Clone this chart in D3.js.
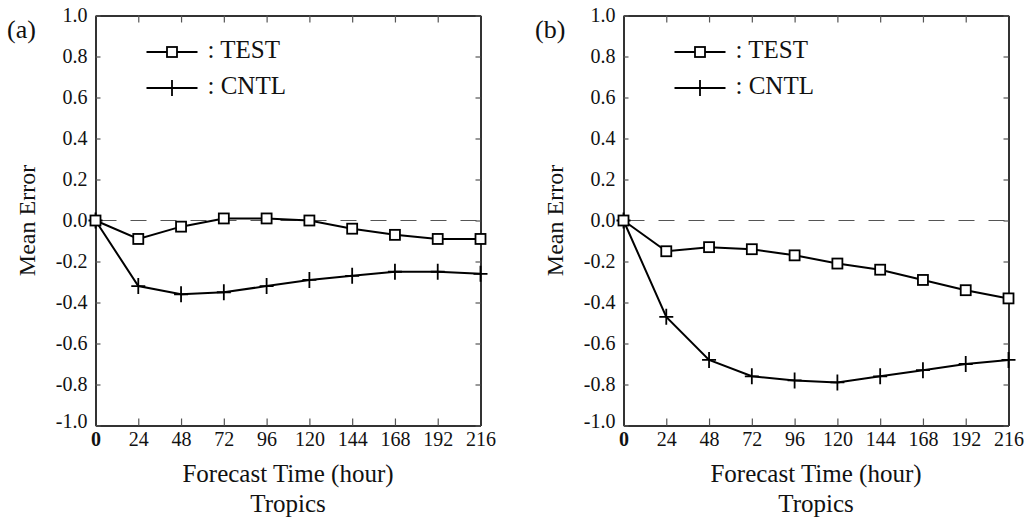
<!DOCTYPE html>
<html lang="en">
	<head>
		<meta charset="utf-8">
		<title>Mean Error</title>
		<script type="text/javascript" src="https://cdn.jsdelivr.net/npm/d3@7"></script>
		<style type="text/css">
			body { margin: 0; background: #fff; }
			text { font-family: "Liberation Serif", "Times New Roman", Times, serif; fill: #111; }
		</style>
	</head>
	<body>
		<script type="text/javascript">

			var hours = [0, 24, 48, 72, 96, 120, 144, 168, 192, 216]
			var yTicks = [-1.0, -0.8, -0.6, -0.4, -0.2, 0.0, 0.2, 0.4, 0.6, 0.8, 1.0]

			// panel (a)
			var testA = [0.0, -0.09, -0.03, 0.01, 0.01, 0.0, -0.04, -0.07, -0.09, -0.09]
			var cntlA = [0.0, -0.32, -0.36, -0.35, -0.32, -0.29, -0.27, -0.25, -0.25, -0.26]
			// panel (b)
			var testB = [0.0, -0.15, -0.13, -0.14, -0.17, -0.21, -0.24, -0.29, -0.34, -0.38]
			var cntlB = [0.0, -0.47, -0.68, -0.76, -0.78, -0.79, -0.76, -0.73, -0.70, -0.68]

			var panels = [
				{ label: "(a)", left: 95.5, test: testA, cntl: cntlA },
				{ label: "(b)", left: 623.5, test: testB, cntl: cntlB }
			]

			var w = 1026, h = 519
			var plotTop = 15.5, pw = 385, ph = 410

			var svg = d3.select("body").append("svg").attr("width", w).attr("height", h)

			// plain hyphen instead of the unicode minus
			var fmt = function(d) { return d.toFixed(1) }

			var drawSquare = function(g, x, y) {
				g.append("rect")
					.attr("x", x - 5).attr("y", y - 5)
					.attr("width", 10).attr("height", 10)
					.attr("fill", "#fff").attr("stroke", "#000").attr("stroke-width", 1.8)
			}
			var drawPlus = function(g, x, y) {
				g.append("path")
					.attr("d", "M" + (x - 7) + "," + y + "H" + (x + 7) + "M" + x + "," + (y - 8) + "V" + (y + 8))
					.attr("stroke", "#000").attr("stroke-width", 1.8).attr("fill", "none")
			}

			panels.forEach(function(p) {
				var g = svg.append("g").attr("transform", "translate(" + p.left + "," + plotTop + ")")

				var x = d3.scaleLinear().domain([0, 216]).range([0, pw])
				var y = d3.scaleLinear().domain([-1, 1]).range([ph, 0])

				// zero line
				g.append("line")
					.attr("x1", 0).attr("x2", pw)
					.attr("y1", y(0)).attr("y2", y(0))
					.attr("stroke", "#555").attr("stroke-width", 1.2)
					.attr("stroke-dasharray", "16,14")
					.attr("stroke-dashoffset", -5)

				// axes with inward ticks on all sides
				var bottom = g.append("g").attr("transform", "translate(0," + ph + ")")
					.call(d3.axisBottom(x).tickValues(hours).tickSizeInner(-7).tickSizeOuter(0).tickPadding(6))
				g.append("g")
					.call(d3.axisTop(x).tickValues(hours).tickSizeInner(-7).tickSizeOuter(0).tickFormat(""))
				var leftAx = g.append("g")
					.call(d3.axisLeft(y).tickValues(yTicks).tickSizeInner(-5).tickSizeOuter(0).tickPadding(8).tickFormat(fmt))
				g.append("g").attr("transform", "translate(" + pw + ",0)")
					.call(d3.axisRight(y).tickValues(yTicks).tickSizeInner(-5).tickSizeOuter(0).tickFormat(""))

				g.selectAll(".domain").attr("stroke", "#333").attr("stroke-width", 2)
				g.selectAll(".tick line").attr("stroke", "#555").attr("stroke-width", 1.2)
				g.selectAll(".tick text").attr("font-size", "20px").attr("fill", "#111")
				bottom.selectAll(".tick text").attr("dy", "0.71em")
				bottom.selectAll(".tick").filter(function(d) { return d == 0 })
					.select("text").attr("font-weight", "bold")
				leftAx.selectAll(".tick").filter(function(d) { return d == -1 })
					.select("text").attr("dy", "0.1em")

				// series
				var line = d3.line()
					.x(function(d, i) { return x(hours[i]) })
					.y(function(d) { return y(d) })

				g.append("path").datum(p.cntl).attr("d", line)
					.attr("fill", "none").attr("stroke", "#000").attr("stroke-width", 2)
				g.append("path").datum(p.test).attr("d", line)
					.attr("fill", "none").attr("stroke", "#000").attr("stroke-width", 2)

				p.cntl.forEach(function(d, i) { drawPlus(g, x(hours[i]), y(d)) })
				p.test.forEach(function(d, i) { drawSquare(g, x(hours[i]), y(d)) })

				// legend
				var legend = [
					{ name: ": TEST", kind: "square", y: 36.5 },
					{ name: ": CNTL", kind: "plus", y: 72.5 }
				]
				legend.forEach(function(l) {
					g.append("line").attr("x1", 51).attr("x2", 102)
						.attr("y1", l.y).attr("y2", l.y)
						.attr("stroke", "#000").attr("stroke-width", 2)
					if (l.kind == "square") drawSquare(g, 76.5, l.y)
					else drawPlus(g, 76.5, l.y)
					g.append("text").attr("x", 112).attr("y", l.y + 6)
						.attr("font-size", "25px").text(l.name)
				})

				// titles
				g.append("text").attr("x", pw / 2).attr("y", 466.5)
					.attr("text-anchor", "middle").attr("font-size", "25px")
					.text("Forecast Time (hour)")
				g.append("text").attr("x", pw / 2).attr("y", 496)
					.attr("text-anchor", "middle").attr("font-size", "25px")
					.text("Tropics")
				g.append("text")
					.attr("transform", "translate(-60.5," + (ph / 2) + ") rotate(-90)")
					.attr("text-anchor", "middle").attr("font-size", "24px")
					.text("Mean Error")
				g.append("text").attr("x", -88.5).attr("y", 22.5)
					.attr("font-size", "26px").text(p.label)
			})

		</script>
	</body>
</html>
